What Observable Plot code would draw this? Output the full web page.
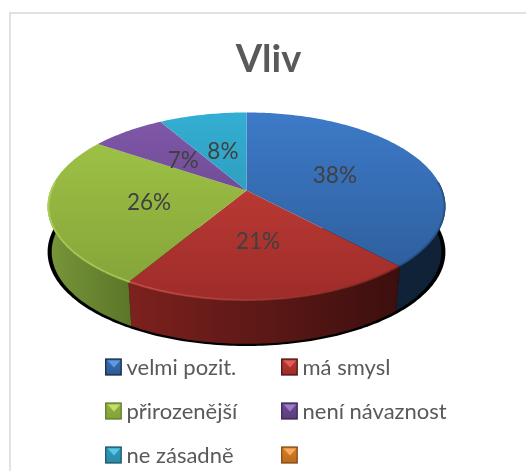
<!DOCTYPE html>
<html><head><meta charset="utf-8">
<style>html,body{margin:0;padding:0;background:#fff}svg{display:block;filter:blur(.35px)}</style>
<script src="https://cdn.jsdelivr.net/npm/d3@7"></script>
<script src="https://cdn.jsdelivr.net/npm/@observablehq/plot@0.6"></script>
</head><body><div id="chart"></div>
<script>
const titleText = "Vliv";
const categories = ["velmi pozit.", "má smysl", "přirozenější", "není návaznost", "ne zásadně", ""];
const values = [38, 20.6, 25.8, 7.2, 8.4, 0];
const topLight = ["#3d7ac8", "#cc423b", "#a2c748", "#8058a9", "#33aed2", "#f79646"];
const topDark = ["#2b5a96", "#9e2c29", "#83a138", "#5b3e7e", "#2a8ba8", "#b96a1e"];
const sideLight = ["#1c3a5e", "#7c211e", "#78963a", "#4a3266", "#1f6a80", "#a05a18"];
const sideDark = ["#0f2238", "#3c0f0e", "#5b7628", "#33224a", "#174f60", "#7a4410"];
const rimLight = ["#2f609e", "#e0605a", "#bcdc66", "#9a78c0", "#5cc6e0", "#f9b070"];
const rimDark = ["#1f4570", "#6e1f1c", "#a9cc55", "#9a78c0", "#5cc6e0", "#f9b070"];
const swatchHi = ["#5f9ae0", "#de5f58", "#c4e068", "#9c7cc4", "#58c8e4", "#f9ac60"];
const swatchMid = ["#3a70b4", "#bc3833", "#93b240", "#6c4a94", "#2f9ab8", "#dc8024"];

const cx = 246, cy = 190, B = 196, A = 91.3, k = 0.17, depth = 46;
const proj = (deg, r = 1, dy = 0) => {
  const t = deg * Math.PI / 180, u = r * Math.sin(t), v = r * Math.cos(t), w = 1 + k * v;
  return {x: cx + B * u / w, y: cy - A * v / w + dy};
};
const arc = (a, b, r = 1, dy = 0) => {
  const n = Math.max(2, Math.ceil(Math.abs(b - a)));
  return d3.range(n + 1).map(i => proj(a + (b - a) * i / n, r, dy));
};

const total = d3.sum(values);
let acc = 0;
const slices = values.map((v, i) => {
  const a = acc / total * 360; acc += v;
  return {i, v, a, b: acc / total * 360};
}).filter(s => s.v > 0);

const defs = () => {
  const d = d3.create("svg:defs");
  const stops = (g, o0, c0, o1, c1) => {
    g.append("stop").attr("offset", o0).attr("stop-color", c0);
    g.append("stop").attr("offset", o1).attr("stop-color", c1);
  };
  categories.forEach((_, i) => {
    stops(d.append("linearGradient").attr("id", `top${i}`).attr("gradientUnits", "userSpaceOnUse")
      .attr("x1", 0).attr("x2", 0).attr("y1", 112).attr("y2", 300), 0, topLight[i], 1, topDark[i]);
    stops(d.append("linearGradient").attr("id", `side${i}`).attr("gradientUnits", "userSpaceOnUse")
      .attr("x1", i === 2 ? 47 : 130).attr("x2", i === 2 ? 130 : 397).attr("y1", 0).attr("y2", 0),
      0, sideLight[i], 1, sideDark[i]);
    stops(d.append("linearGradient").attr("id", `rim${i}`).attr("gradientUnits", "userSpaceOnUse")
      .attr("x1", 130).attr("x2", 397).attr("y1", 0).attr("y2", 0), 0, rimLight[i], 1, rimDark[i]);
    stops(d.append("linearGradient").attr("id", `sw${i}`)
      .attr("x1", 0).attr("x2", 0).attr("y1", 0).attr("y2", 1), 0, swatchMid[i], 1, topDark[i]);
  });
  return d.node();
};

const sideMarks = slices.flatMap(s => {
  const a = Math.max(s.a, 85), b = Math.min(s.b, 275);
  if (b <= a) return [];
  return [Plot.line([...arc(a, b), ...arc(b, a, 0.98, depth)], {
    x: "x", y: "y", fill: `url(#side${s.i})`, stroke: "none"
  })];
});
const topMarks = slices.map(s => Plot.line([proj(0, 0), ...arc(s.a, s.b)], {
  x: "x", y: "y", fill: `url(#top${s.i})`, stroke: "none"
}));
const rimMarks = slices.flatMap(s => {
  const a = Math.max(s.a, 85), b = Math.min(s.b, 275);
  if (b <= a) return [];
  return [Plot.line(arc(a, b, 0.996), {x: "x", y: "y", stroke: `url(#rim${s.i})`, strokeWidth: 2, strokeOpacity: 0.6})];
});

const labels = slices.map(s => ({...proj((s.a + s.b) / 2, 0.5), t: `${Math.round(s.v)}%`}));

const legendRows = [367, 411, 455], legendCols = [105.7, 281.7], sw = 15.5;
const legend = categories.map((name, i) => ({
  name, i,
  x: legendCols[i % 2],
  y: legendRows[Math.floor(i / 2)]
}));

const plot = Plot.plot({
  width: 526, height: 471, margin: 0,
  style: {background: "#fff", fontFamily: "Lato, Carlito, sans-serif"},
  x: {domain: [0, 526], range: [0, 526], axis: null},
  y: {domain: [0, 471], range: [0, 471], axis: null},
  marks: [
    defs,
    Plot.ruleX([9.5], {y1: 12, y2: 471, stroke: "#d9d9d9", strokeWidth: 1.5}),
    Plot.ruleY([12.5], {x1: 9, x2: 526, stroke: "#d9d9d9", strokeWidth: 1.5}),
    Plot.text([titleText], {x: () => 268, y: () => 59.5, text: d => d, fontSize: 38, fontWeight: 700, fill: "#595959"}),
    Plot.line(arc(85, 275, 1, depth - 0.5), {x: "x", y: "y", fill: "#000", stroke: "none"}),
    ...sideMarks,
    ...topMarks,
    ...rimMarks,
    Plot.text(labels, {x: "x", y: "y", dy: 2, text: "t", fontSize: 22.5, fill: "#404040"}),
    Plot.rect(legend, {x1: "x", x2: d => d.x + sw, y1: d => d.y - 8, y2: d => d.y + 8,
      fill: d => `url(#sw${d.i})`, stroke: d => sideDark[d.i], strokeWidth: 1.2}),
    ...legend.map(d => Plot.line(
      [{x: d.x + 1.5, y: d.y - 7}, {x: d.x + 14, y: d.y - 7}, {x: d.x + 7.75, y: d.y}],
      {x: "x", y: "y", fill: swatchHi[d.i], stroke: "none"})),
    Plot.text(legend, {x: d => d.x + 20.3, y: "y", text: "name", textAnchor: "start", fontSize: 22, fill: "#595959"})
  ]
});
document.getElementById("chart").appendChild(plot);
</script></body></html>
